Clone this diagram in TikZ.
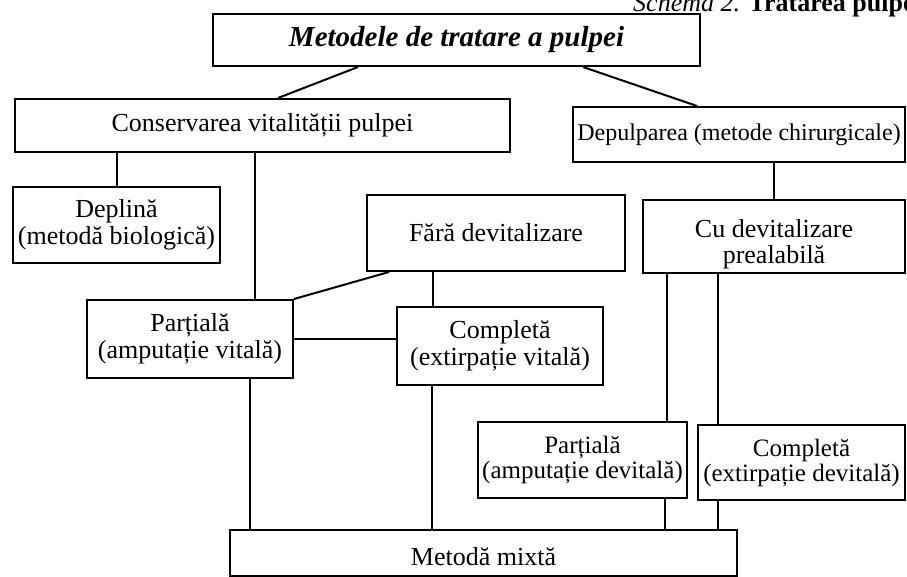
\documentclass[tikz,border=0pt]{standalone}
\usepackage{fontspec}
\setmainfont{Liberation Serif}
\begin{document}
\begin{tikzpicture}[x=1pt,y=-1pt,
  box/.style={draw=black, line width=2pt, rectangle, inner sep=0pt, align=center,
    font=\fontsize{26}{27}\selectfont, text=black},
  smallbox/.style={box, font=\fontsize{25}{25}\selectfont},
  label text/.style={inner sep=0pt, align=center, font=\fontsize{26}{26}\selectfont, text=black},
  conn/.style={draw=black, line width=2pt}]
\clip (0,0) rectangle (907,577);
\fill[white] (0,0) rectangle (907,577);
% title
\node[anchor=base west, inner sep=0pt, font=\fontsize{26}{28}\selectfont] (title) at (633,12)
  {\textit{Schema 2.} \textbf{Tratarea pulpei}};
% boxes
\node[box, minimum width=487, minimum height=52, font=\fontsize{29}{32}\selectfont\bfseries\itshape] (top) at (456.5,40) {Metodele de tratare a pulpei};
\node[box, minimum width=495, minimum height=53] (cons) at (262.5,125.5) {Conservarea vitalității pulpei};
\node[box, minimum width=332, minimum height=55, font=\fontsize{24}{26}\selectfont] (dep) at (739,134.5) {Depulparea (metode chirurgicale)};
\node[box, minimum width=207, minimum height=76] (depl) at (116.5,225) {Deplină\\(metodă biologică)};
\node[box, minimum width=258, minimum height=76] (fara) at (496,233) {Fără devitalizare};
\node[box, minimum width=262, minimum height=73] (cudev) at (774,236.5) {};
\node[label text] (cudevtext) at (774,244) {Cu devitalizare\\prealabilă};
\node[box, minimum width=206, minimum height=78] (pv) at (190,339) {Parțială\\(amputație vitală)};
\node[box, minimum width=206, minimum height=78] (cv) at (500,346) {Completă\\(extirpație vitală)};
\node[smallbox, minimum width=209, minimum height=76] (pd) at (582.5,460) {Parțială\\(amputație devitală)};
\node[smallbox, minimum width=207, minimum height=75] (cd) at (801.5,462.5) {Completă\\(extirpație devitală)};
\node[box, minimum width=507, minimum height=46] (mix) at (483.5,553) {};
\node[label text] (mixtext) at (483.5,557) {Metodă mixtă};
% connectors
\draw[conn] ([xshift=-98.5pt]top.south) -- ([xshift=15.5pt]cons.north);
\draw[conn] ([xshift=126.5pt]top.south) -- ([xshift=-42pt]dep.north);
\draw[conn] (depl.north |- cons.south) -- (depl.north);
\draw[conn] ([xshift=65pt]pv.north |- cons.south) -- ([xshift=65pt]pv.north);
\draw[conn] ([xshift=-107pt]fara.south) -- (pv.north east);
\draw[conn] ([xshift=-63pt]fara.south) -- ([xshift=-63pt]fara.south |- cv.north);
\draw[conn] (pv.east) -- (pv.east -| cv.west);
\draw[conn] ([xshift=60pt]pv.south) -- ([xshift=60pt]pv.south |- mix.north);
\draw[conn] ([xshift=-68pt]cv.south) -- ([xshift=-68pt]cv.south |- mix.north);
\draw[conn] (cudev.north |- dep.south) -- (cudev.north);
\draw[conn] ([xshift=-107pt]cudev.south) -- ([xshift=-107pt]cudev.south |- pd.north);
\draw[conn] ([xshift=-56pt]cudev.south) -- ([xshift=-56pt]cudev.south |- cd.north);
\draw[conn] ([xshift=82.5pt]pd.south) -- ([xshift=82.5pt]pd.south |- mix.north);
\draw[conn] ([xshift=-83.5pt]cd.south) -- ([xshift=-83.5pt]cd.south |- mix.north);
\end{tikzpicture}
\end{document}
